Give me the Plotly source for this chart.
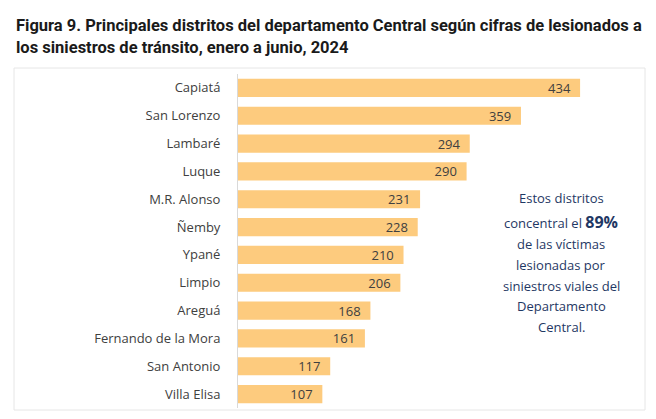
import plotly.graph_objects as go

districts = ["Capiatá", "San Lorenzo", "Lambaré", "Luque", "M.R. Alonso", "Ñemby",
             "Ypané", "Limpio", "Areguá", "Fernando de la Mora", "San Antonio", "Villa Elisa"]
injured = [434, 359, 294, 290, 231, 228, 210, 206, 168, 161, 117, 107]

title_lines = ["Figura 9. Principales distritos del departamento Central según cifras de lesionados a",
               "los siniestros de tránsito, enero a junio, 2024"]
note_lines = ["Estos distritos",
              "concentral el <b><span style='font-size:16px'>89%</span></b>",
              "de las víctimas", "lesionadas por", "siniestros viales del",
              "Departamento", "Central."]
note_y = [198, 222, 244, 265, 286, 306, 327]

fig = go.Figure(go.Bar(
    x=injured, y=districts, orientation="h",
    marker=dict(color="#FDCB7E", line=dict(width=0)),
    text=[str(v) + "\u00a0\u00a0" for v in injured], textposition="inside", insidetextanchor="end",
    constraintext="none",
    textfont=dict(color="#404040", size=13, family="Open Sans"),
    cliponaxis=False,
))

fig.update_layout(
    width=656, height=419,
    margin=dict(l=238, r=16, t=74, b=11),
    paper_bgcolor="white", plot_bgcolor="white",
    bargap=0.35, showlegend=False,
    uniformtext=dict(minsize=13, mode="show"),
    font=dict(family="Open Sans", color="#404040", size=13),
)
fig.update_xaxes(range=[0, 510], visible=False)
fig.update_yaxes(autorange="reversed", showline=True, linecolor="#D9D9D9", linewidth=1,
                 ticks="", ticklabelstandoff=14,
                 tickfont=dict(family="Open Sans", size=13, color="#404040"))

# title
for line, ty in zip(title_lines, [25, 48]):
    fig.add_annotation(text="<b>" + line + "</b>", xref="paper", yref="paper",
                       x=(14 - 238) / 402, y=(408 - ty) / 334, xanchor="left", yanchor="middle",
                       showarrow=False, font=dict(family="Roboto", size=16.5, color="#1a1a1a"))

# note
for line, ny in zip(note_lines, note_y):
    fig.add_annotation(text=line, xref="paper", yref="paper", x=(561 - 238) / 402, y=(408 - ny) / 334,
                       xanchor="center", yanchor="middle", align="center", showarrow=False,
                       font=dict(family="Open Sans", size=13, color="#1F3864"))

# border box
fig.add_shape(type="rect", xref="paper", yref="paper",
              x0=(14 - 238) / 402, x1=(645 - 238) / 402, y0=(408 - 410) / 334, y1=(408 - 68) / 334,
              line=dict(color="#E6E6E6", width=1), fillcolor="rgba(0,0,0,0)", layer="below")

fig.write_html("out.html")
